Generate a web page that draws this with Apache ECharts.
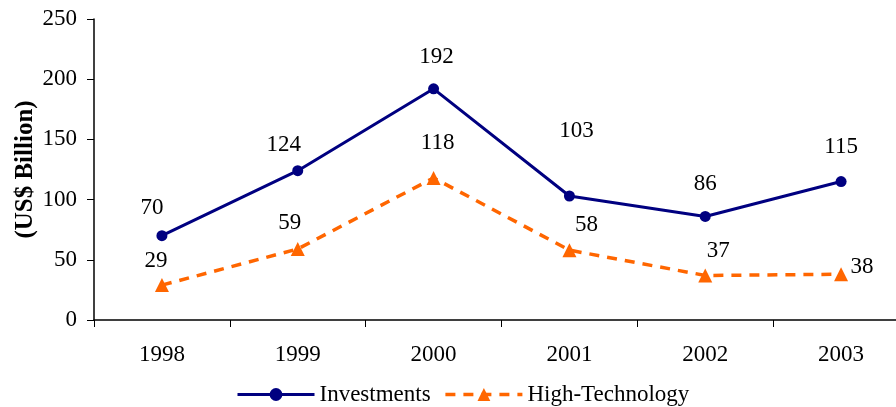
<!DOCTYPE html>
<html>
<head>
<meta charset="utf-8">
<script src="https://cdn.jsdelivr.net/npm/echarts@6/dist/echarts.min.js"></script>
<style>
  html, body { margin: 0; padding: 0; background: #fff; }
  #chart { width: 896px; height: 407px; }
</style>
</head>
<body>
<div id="chart"></div>
<script>
const years = ["1998", "1999", "2000", "2001", "2002", "2003"];
const investments = [70, 124, 192, 103, 86, 115];
const highTech = [29, 59, 118, 58, 37, 38];
const yTicks = [0, 50, 100, 150, 200, 250];

// label nudges (px) so the value labels sit where the original has them
const invOffsets = [[-10, -28], [-14, -26], [3, -32], [7, -65], [0, -33], [0, -35]];
const techOffsets = [[-6, -24], [-8, -26], [4, -35], [17, -25], [13, -24], [21, -7]];

const font = "'Liberation Serif', 'Times New Roman', serif";
const navy = "#000080";
const orange = "#ff6600";

function withLabels(values, offsets) {
  return values.map((v, i) => ({
    value: v,
    label: { offset: offsets[i] },
  }));
}

const chart = echarts.init(document.getElementById("chart"));

chart.setOption({
  animation: false,
  textStyle: { fontFamily: font },
  // the plot runs past the right edge of the picture in the original
  grid: { left: 94, width: 815, top: 19, height: 301, outerBoundsMode: "none", containLabel: false },
  legend: {
    bottom: -4,
    left: 231,
    itemWidth: 77,
    itemHeight: 16,
    itemGap: 13,
    textStyle: { fontFamily: font, fontSize: 23, color: "#000" },
    data: [
      { name: "Investments", lineStyle: { width: 3 } },
      { name: "High-Technology", lineStyle: { width: 3.5 } },
    ],
  },
  xAxis: {
    type: "category",
    data: years,
    boundaryGap: true,
    axisLine: { lineStyle: { color: "#000", width: 1.5 } },
    axisTick: { show: true, length: 7, lineStyle: { color: "#000" } },
    axisLabel: { color: "#000", fontSize: 23, fontFamily: font, margin: 23 },
  },
  yAxis: {
    type: "value",
    min: yTicks[0],
    max: yTicks[yTicks.length - 1],
    interval: 50,
    name: "(US$ Billion)",
    nameLocation: "middle",
    nameGap: 56,
    nameRotate: 90,
    nameMoveOverlap: false,
    nameTextStyle: { color: "#000", fontSize: 25, fontWeight: "bold", fontFamily: font },
    axisLine: { show: true, lineStyle: { color: "#000", width: 1.5 } },
    axisTick: { show: true, length: 7, lineStyle: { color: "#000" } },
    axisLabel: { color: "#000", fontSize: 23, fontFamily: font, margin: 17 },
    splitLine: { show: false },
  },
  series: [
    {
      name: "Investments",
      type: "line",
      data: withLabels(investments, invOffsets),
      symbol: "circle",
      symbolSize: 11,
      lineStyle: { color: navy, width: 3 },
      itemStyle: { color: navy },
      label: {
        show: true,
        position: "inside",
        color: "#000",
        fontSize: 23,
        fontFamily: font,
      },
    },
    {
      name: "High-Technology",
      type: "line",
      data: withLabels(highTech, techOffsets),
      symbol: "triangle",
      symbolSize: 14,
      lineStyle: { color: orange, width: 3.5, type: [10, 8] },
      itemStyle: { color: orange },
      label: {
        show: true,
        position: "inside",
        color: "#000",
        fontSize: 23,
        fontFamily: font,
      },
    },
  ],
});
</script>
</body>
</html>
